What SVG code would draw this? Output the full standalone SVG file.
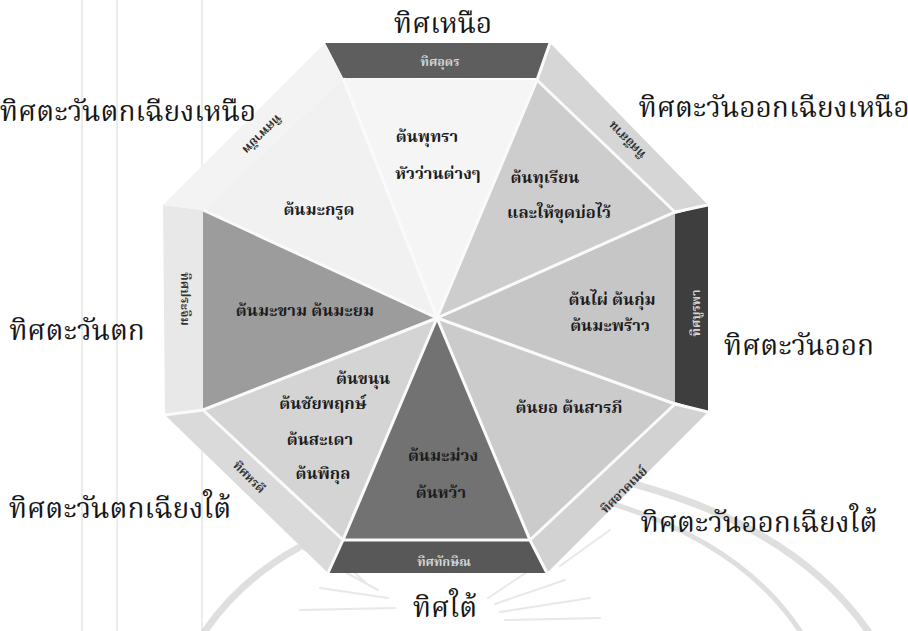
<svg xmlns="http://www.w3.org/2000/svg" width="908" height="631" viewBox="0 0 908 631">
<style>
text{font-family:'Noto Serif Thai','Noto Sans Thai','Loma','Garuda','Noto Sans','DejaVu Sans',sans-serif;text-anchor:middle}
.dir{font-size:28px;fill:#161616}
.tree{font-size:16.5px;font-weight:bold;fill:#1c1c1c}
.bl{font-size:12.5px;font-weight:bold;fill:#d6d6d6}
.bd{font-size:12.5px;font-weight:bold;fill:#333}
.sep{stroke:#fafafa;stroke-width:3;fill:none}
.wm{stroke:#d2d2d2;fill:none;stroke-linecap:round}
.scan{stroke:#d8d8d8;stroke-width:1}
</style>
<rect width="908" height="631" fill="#ffffff"/>
<g id="scanlines">
<line class="scan" x1="82" y1="0" x2="82" y2="631"/>
<line class="scan" x1="117" y1="0" x2="117" y2="631"/>
<line class="scan" x1="202" y1="0" x2="202" y2="631"/>
</g>
<g id="watermark" opacity="0.7">
<path class="wm" stroke-width="7" d="M298 548 Q240 580 205 631"/>
<path class="wm" stroke-width="7" d="M610 478 Q790 520 868 631"/>
<path class="wm" stroke-width="5" d="M600 500 Q740 540 800 631"/>
<path class="wm" stroke-width="2" opacity="0.7" d="M378 590 L345 572 M388 598 L320 588 M395 608 L300 610 M488 598 L530 570 M495 604 L565 580 M500 612 L590 598 M505 620 L600 618 M365 582 L335 555 M550 560 L575 520 M560 566 L610 530 M330 560 L300 548"/>
</g>
<g id="bands">
<polygon id="band-n" points="325,43 550,43 545,78 343,78" fill="#5e5e5e"/>
<polygon id="band-ne" points="550,43 708,205 675,212 537,80" fill="#d6d6d6"/>
<polygon id="band-e" points="708,205 708,412 675,402 675,214" fill="#3e3e3e"/>
<polygon id="band-se" points="708,412 547,573 530,540 675,404" fill="#d2d2d2"/>
<polygon id="band-s" points="547,573 328,573 343,540 530,540" fill="#585858"/>
<polygon id="band-sw" points="328,573 165,415 203,410 343,540" fill="#dadada"/>
<polygon id="band-w" points="165,415 163,205 203,210 203,410" fill="#e8e8e8"/>
<polygon id="band-nw" points="163,205 325,43 343,78 203,210" fill="#f3f3f3"/>
</g>
<g id="sectors">
<polygon id="sec-n" points="437,318 343,78 537,80" fill="#f5f5f5"/>
<polygon id="sec-ne" points="437,318 537,80 675,212" fill="#cdcdcd"/>
<polygon id="sec-e" points="437,318 675,212 675,404" fill="#c6c6c6"/>
<polygon id="sec-se" points="437,318 675,404 530,540" fill="#cbcbcb"/>
<polygon id="sec-s" points="437,318 530,540 343,540" fill="#727272"/>
<polygon id="sec-sw" points="437,318 343,540 203,410" fill="#d4d4d4"/>
<polygon id="sec-w" points="437,318 203,410 203,210" fill="#9c9c9c"/>
<polygon id="sec-nw" points="437,318 203,210 343,78" fill="#f1f1f1"/>
</g>
<g id="connectors">
<path class="sep" d="M437 318 L537 80 L550 43 M437 318 L675 212 L708 205 M437 318 L675 404 L708 412 M437 318 L530 540 L547 573 M437 318 L343 540 L328 573 M437 318 L203 410 L165 415 M437 318 L203 210 M437 318 L343 78"/>
<path class="sep" d="M537 80 L675 212 M675 404 L530 540 M343 540 L203 410 M343 540 L530 540"/>
</g>
<g id="band-labels">
<text class="bl" x="440" y="66">ทิศอุดร</text>
<text class="bl" transform="translate(696,313) rotate(-90)" y="4">ทิศบูรพา</text>
<text class="bl" x="444" y="566">ทิศทักษิณ</text>
<text class="bd" transform="translate(185,299) rotate(90)" y="4">ทิศประจิม</text>
<text class="bd" transform="translate(627,140) rotate(-135)" y="4">ทิศอีสาน</text>
<text class="bd" transform="translate(262,134) rotate(135)" y="4">ทิศพายัพ</text>
<text class="bd" transform="translate(249,477) rotate(45)" y="4">ทิศหรดี</text>
<text class="bd" transform="translate(624,490) rotate(-45)" y="4">ทิศอาคเนย์</text>
</g>
<g id="trees">
<text class="tree" x="427" y="142">ต้นพุทรา</text>
<text class="tree" x="438" y="179">หัวว่านต่างๆ</text>
<text class="tree" x="545" y="183">ต้นทุเรียน</text>
<text class="tree" x="559" y="218">และให้ขุดบ่อไว้</text>
<text class="tree" x="319" y="215">ต้นมะกรูด</text>
<text class="tree" x="305" y="316">ต้นมะขาม ต้นมะยม</text>
<text class="tree" x="612" y="305">ต้นไผ่ ต้นกุ่ม</text>
<text class="tree" x="610" y="331">ต้นมะพร้าว</text>
<text class="tree" x="569" y="413">ต้นยอ ต้นสารภี</text>
<text class="tree" x="363" y="384">ต้นขนุน</text>
<text class="tree" x="323" y="409">ต้นชัยพฤกษ์</text>
<text class="tree" x="320" y="445">ต้นสะเดา</text>
<text class="tree" x="323" y="479">ต้นพิกุล</text>
<text class="tree" x="443" y="461">ต้นมะม่วง</text>
<text class="tree" x="441" y="498">ต้นหว้า</text>
</g>
<g id="directions">
<text class="dir" x="443" y="33">ทิศเหนือ</text>
<text class="dir" x="128" y="121">ทิศตะวันตกเฉียงเหนือ</text>
<text class="dir" x="774" y="117">ทิศตะวันออกเฉียงเหนือ</text>
<text class="dir" x="77" y="340">ทิศตะวันตก</text>
<text class="dir" x="799" y="355">ทิศตะวันออก</text>
<text class="dir" x="120" y="518">ทิศตะวันตกเฉียงใต้</text>
<text class="dir" x="759" y="532">ทิศตะวันออกเฉียงใต้</text>
<text class="dir" x="445" y="617">ทิศใต้</text>
</g>
</svg>
